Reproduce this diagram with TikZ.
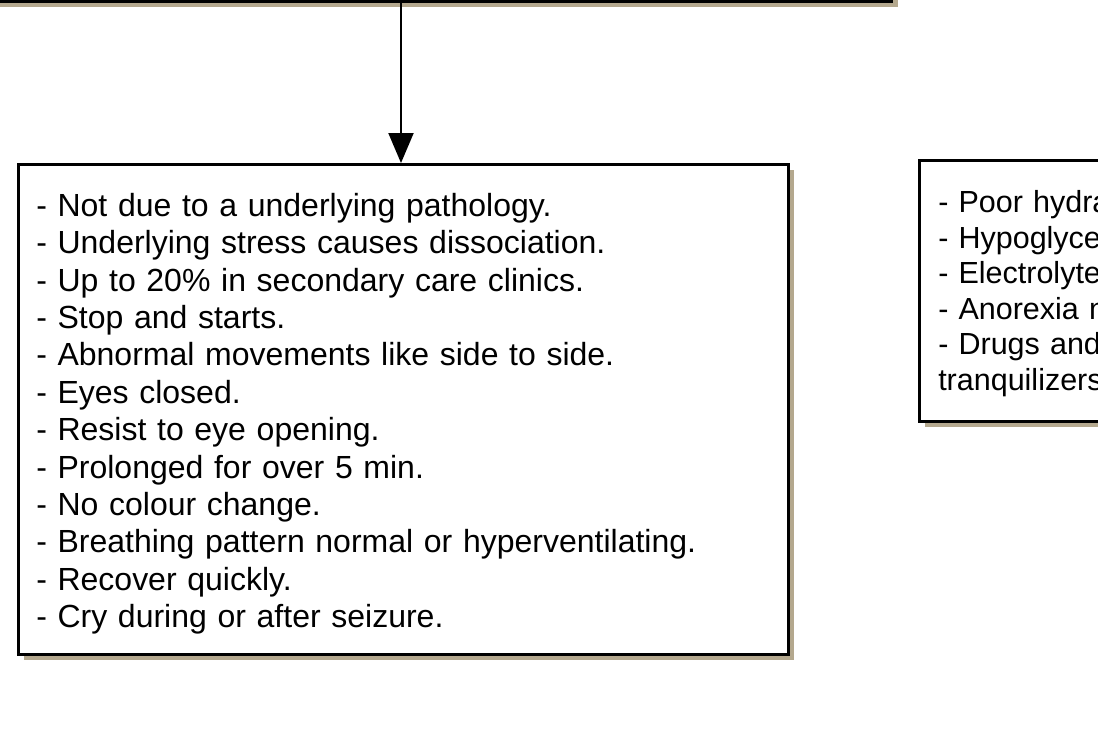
\documentclass[tikz,border=0pt]{standalone}
\usepackage{fontspec}
\setmainfont{Liberation Sans}
\usetikzlibrary{positioning,shadows,arrows.meta}
\definecolor{boxyellow}{RGB}{240,232,60}
\definecolor{shadowtan}{RGB}{180,168,142}
\tikzset{
  notebox/.style={draw,line width=2.5pt,fill=white,align=left,
    drop shadow={shadow xshift=6pt,shadow yshift=-6pt,fill=shadowtan,opacity=1}},
}

\begin{document}
\begin{tikzpicture}[x=1pt,y=-1pt]
      \useasboundingbox (0,0) rectangle (1098,729);
      \clip (0,0) rectangle (1098,729);
      \node[notebox,fill=boxyellow,minimum width=982pt,minimum height=100pt,anchor=south] (cause) at (401,2.5) {};
      \node[notebox,anchor=north west,text width=734pt,inner xsep=18pt,minimum height=490pt,text height=32pt,
        font=\fontsize{32pt}{37.4pt}\selectfont] (pseudo) at (17,163) {%
        - Not due to a underlying pathology.\\
        - Underlying stress causes dissociation.\\
        - Up to 20\% in secondary care clinics.\\
        - Stop and starts.\\
        - Abnormal movements like side to side.\\
        - Eyes closed.\\
        - Resist to eye opening.\\
        - Prolonged for over 5 min.\\
        - No colour change.\\
        - Breathing pattern normal or hyperventilating.\\
        - Recover quickly.\\
        - Cry during or after seizure.};
      \node[notebox,anchor=north west,text width=362pt,inner xsep=19pt,minimum height=261pt,text height=28pt,
        font=\fontsize{30.5pt}{35.6pt}\selectfont] (other) at (918,159) {%
        - Poor hydra\\
        - Hypoglyce\\
        - Electrolyte\\
        - Anorexia n\\
        - Drugs and\\
        tranquilizers};
      \draw[line width=2pt,-{Triangle[length=30pt,width=25pt]}] (cause.south) -- (cause.south |- pseudo.north);
    \end{tikzpicture}
\end{document}
